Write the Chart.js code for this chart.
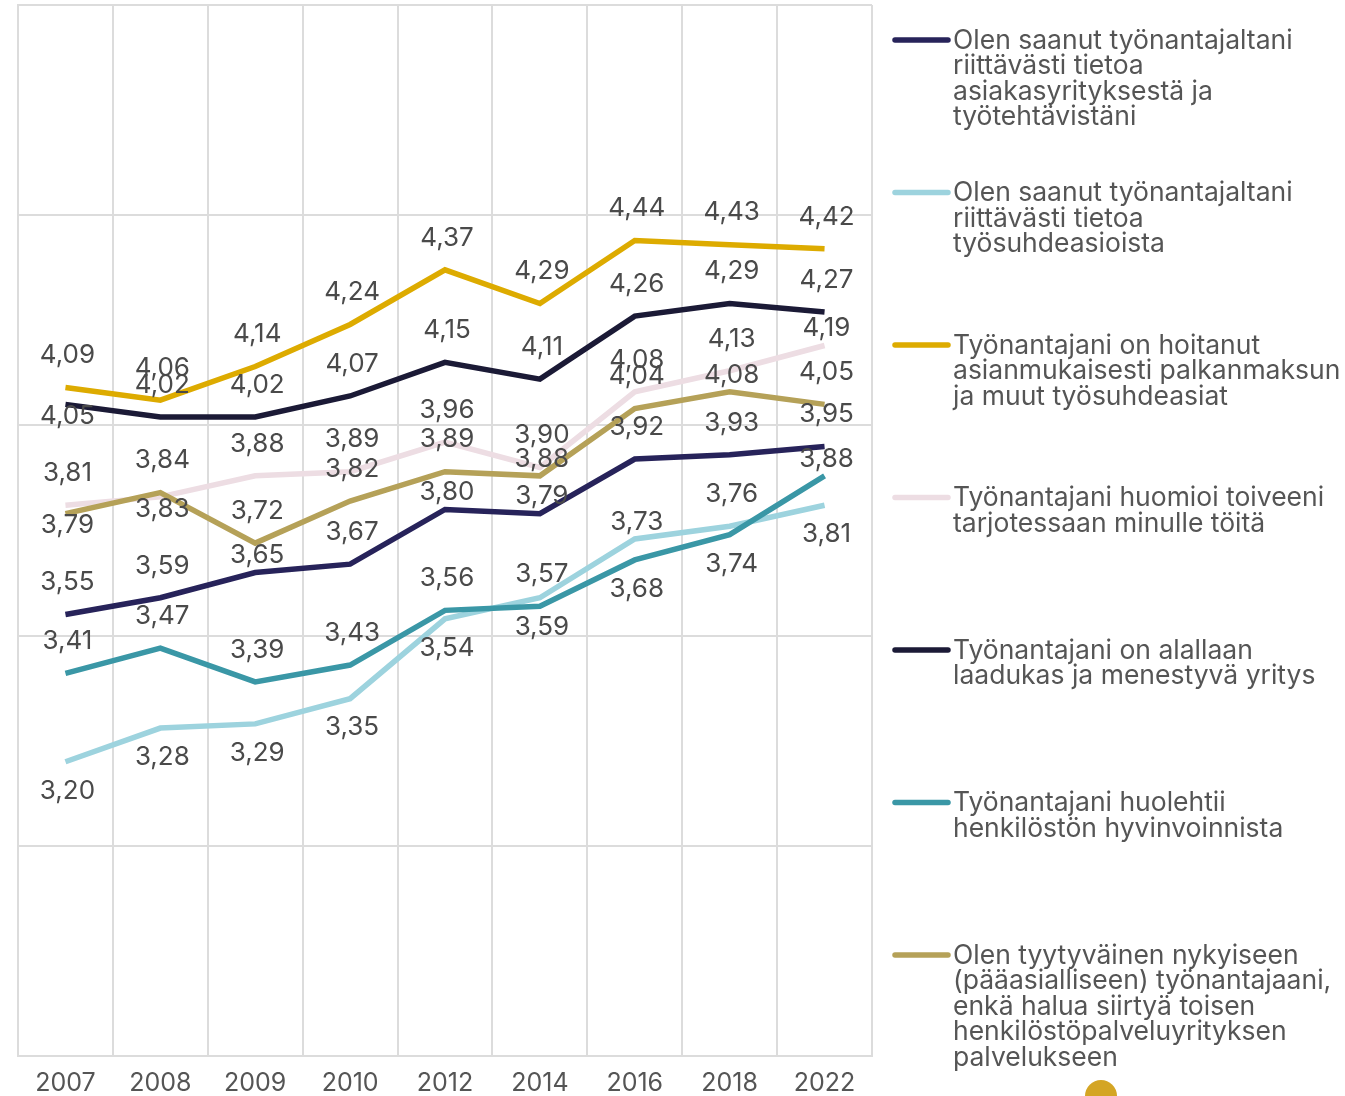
<!DOCTYPE html>
<html>
<head>
<meta charset="utf-8">
<script src="https://cdn.jsdelivr.net/npm/chart.js@4.4.1/dist/chart.umd.min.js"></script>
<style>
  html, body { margin: 0; padding: 0; background: #fff; overflow: hidden; }
  #wrap { position: relative; width: 1345px; height: 1096px; }
  #dot { position: absolute; left: 1085px; top: 1080px; width: 32px; height: 32px; border-radius: 50%; background: #d4a524; }
</style>
</head>
<body>
<div id="wrap">
  <canvas id="chart" width="1345" height="1096"></canvas>
  <div id="dot"></div>
</div>
<script>
var years = ['2007', '2008', '2009', '2010', '2012', '2014', '2016', '2018', '2022'];

var infoCustomer = [3.55, 3.59, 3.65, 3.67, 3.80, 3.79, 3.92, 3.93, 3.95];
var infoEmployment = [3.20, 3.28, 3.29, 3.35, 3.54, 3.59, 3.73, 3.76, 3.81];
var payrollOk = [4.09, 4.06, 4.14, 4.24, 4.37, 4.29, 4.44, 4.43, 4.42];
var wishesNoted = [3.81, 3.83, 3.88, 3.89, 3.96, 3.90, 4.08, 4.13, 4.19];
var qualityCompany = [4.05, 4.02, 4.02, 4.07, 4.15, 4.11, 4.26, 4.29, 4.27];
var wellbeing = [3.41, 3.47, 3.39, 3.43, 3.56, 3.57, 3.68, 3.74, 3.88];
var satisfied = [3.79, 3.84, 3.72, 3.82, 3.89, 3.88, 4.04, 4.08, 4.05];

var seriesLabels = [
    ['Olen saanut työnantajaltani', 'riittävästi tietoa', 'asiakasyrityksestä ja', 'työtehtävistäni'],
    ['Olen saanut työnantajaltani', 'riittävästi tietoa', 'työsuhdeasioista'],
    ['Työnantajani on hoitanut', 'asianmukaisesti palkanmaksun', 'ja muut työsuhdeasiat'],
    ['Työnantajani huomioi toiveeni', 'tarjotessaan minulle töitä'],
    ['Työnantajani on alallaan', 'laadukas ja menestyvä yritys'],
    ['Työnantajani huolehtii', 'henkilöstön hyvinvoinnista'],
    ['Olen tyytyväinen nykyiseen', '(pääasialliseen) työnantajaani,', 'enkä halua siirtyä toisen', 'henkilöstöpalveluyrityksen', 'palvelukseen']
];

var seriesValues = [infoCustomer, infoEmployment, payrollOk, wishesNoted, qualityCompany, wellbeing, satisfied];
var seriesColors = ['#27235a', '#9dd3de', '#ddab00', '#eddde3', '#1b1a36', '#3a97a6', '#b5a158'];
// which points get their value label under the line, and which labels sit closer to the line
var labelsBelow = [[], [0, 1, 2, 3, 4, 5, 8], [], [1], [0], [6, 7], [0]];
var labelsNear = [[2, 4, 5], [6], [], [1, 8], [0], [8], [0, 5, 7]];

var fontFamily = 'Inter, "Open Sans", sans-serif';

var datasets = seriesValues.map(function (values, i) {
    return {
        label: seriesLabels[i].join(' '),
        data: values,
        borderColor: seriesColors[i],
        backgroundColor: seriesColors[i],
        borderWidth: 5.5,
        pointRadius: 0,
        tension: 0,
        fill: false,
        order: seriesValues.length - i,
        below: labelsBelow[i],
        near: labelsNear[i]
    };
});

var valueLabels = {
    id: 'valueLabels',
    afterDatasetsDraw: function (chart) {
        var ctx = chart.ctx;
        ctx.save();
        ctx.font = '26px ' + fontFamily;
        ctx.fillStyle = '#4a4a4a';
        ctx.textAlign = 'center';
        ctx.textBaseline = 'middle';
        chart.data.datasets.forEach(function (ds, i) {
            var meta = chart.getDatasetMeta(i);
            meta.data.forEach(function (pt, j) {
                var under = ds.below.indexOf(j) >= 0;
                var near = ds.near.indexOf(j) >= 0;
                var dy = under ? (near ? 12 : 29) : (near ? -17 : -32);
                var txt = ds.data[j].toFixed(2).replace('.', ',');
                ctx.fillText(txt, pt.x + 2, pt.y + dy);
            });
        });
        ctx.restore();
    }
};

var sideLegend = {
    id: 'sideLegend',
    afterDraw: function (chart) {
        var ctx = chart.ctx;
        var left = chart.chartArea.right + 23;
        ctx.save();
        ctx.font = '26.5px ' + fontFamily;
        ctx.textBaseline = 'middle';
        seriesLabels.forEach(function (lines, i) {
            var y = 40 + i * 152.5;
            ctx.strokeStyle = seriesColors[i];
            ctx.lineWidth = 5.5;
            ctx.lineCap = 'round';
            ctx.beginPath();
            ctx.moveTo(left, y);
            ctx.lineTo(left + 53, y);
            ctx.stroke();
            ctx.fillStyle = '#555555';
            lines.forEach(function (line, k) {
                ctx.fillText(line, left + 58, y + 1 + k * 25.5);
            });
        });
        ctx.restore();
    }
};

var chart = new Chart(document.getElementById('chart'), {
    type: 'line',
    data: { labels: years, datasets: datasets },
    options: {
        responsive: false,
        animation: false,
        layout: { padding: { left: 18, right: 473, top: 5, bottom: 0 } },
        plugins: {
            legend: { display: false },
            tooltip: { enabled: false }
        },
        scales: {
            x: {
                offset: true,
                grid: { offset: true, color: '#dcdcdc', lineWidth: 2, drawTicks: false },
                border: { color: '#dcdcdc', width: 2 },
                ticks: { color: '#555555', font: { family: fontFamily, size: 25 }, padding: 12, maxRotation: 0 },
                afterFit: function (scale) { scale.height = 40; }
            },
            y: {
                min: 2.5,
                max: 5,
                ticks: { display: false, stepSize: 0.5 },
                grid: { color: '#dcdcdc', lineWidth: 2, drawTicks: false },
                border: { color: '#dcdcdc', width: 2 }
            }
        }
    },
    plugins: [valueLabels, sideLegend]
});
</script>
</body>
</html>
